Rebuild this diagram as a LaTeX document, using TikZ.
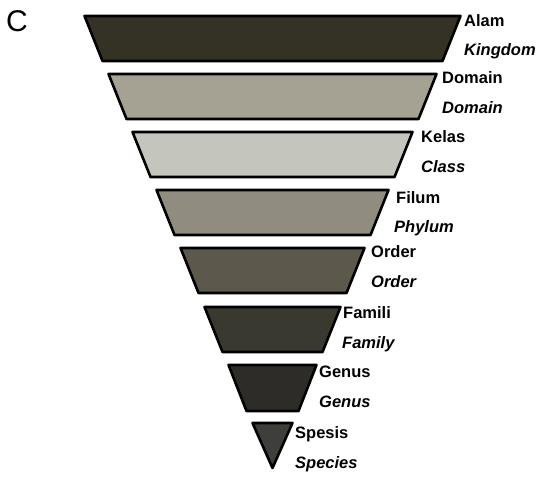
\documentclass[tikz,border=0pt]{standalone}
\usepackage{fontspec}
\setmainfont{Liberation Sans}
\usepackage{tikz}

\definecolor{alamfill}{RGB}{52,50,36}
\definecolor{domainfill}{RGB}{165,162,148}
\definecolor{kelasfill}{RGB}{196,197,188}
\definecolor{filumfill}{RGB}{145,140,128}
\definecolor{orderfill}{RGB}{92,88,76}
\definecolor{familifill}{RGB}{58,57,48}
\definecolor{genusfill}{RGB}{45,44,40}
\definecolor{spesisfill}{RGB}{62,62,58}

\begin{document}
\begin{tikzpicture}[
  x=1pt, y=-1pt,
  band/.style={draw=black, line width=2.6pt, line join=round},
  rank/.style={font=\fontsize{16.5}{18}\selectfont\bfseries, anchor=base west, inner sep=0pt},
  latin/.style={rank, font=\fontsize{16.5}{18}\selectfont\bfseries\itshape},
  panel/.style={font=\fontsize{30}{32}\selectfont, anchor=base west, inner sep=0pt}]
\useasboundingbox (0,0) rectangle (537,477);
\node[panel] (tag) at (6,31.5) {C};
% the inverted pyramid, one band per rank
\draw[band, fill=alamfill]   (84.5,16) -- (460.5,16) -- (442.5,61) -- (102.5,61) -- cycle;
\draw[band, fill=domainfill] (108.5,74) -- (436.5,74) -- (418.5,119) -- (126.5,119) -- cycle;
\draw[band, fill=kelasfill]  (132.5,132) -- (412.5,132) -- (394.5,177) -- (150.5,177) -- cycle;
\draw[band, fill=filumfill]  (156.5,190) -- (388.5,190) -- (370.5,235) -- (174.5,235) -- cycle;
\draw[band, fill=orderfill]  (180.5,248) -- (364.5,248) -- (346.5,293) -- (198.5,293) -- cycle;
\draw[band, fill=familifill] (204.5,307) -- (340.5,307) -- (322.5,352) -- (222.5,352) -- cycle;
\draw[band, fill=genusfill]  (228.5,365) -- (316.5,365) -- (298.5,411) -- (246.5,411) -- cycle;
\draw[band, fill=spesisfill] (252.5,423) -- (292.5,423) -- (272.5,468) -- cycle;
% rank names
\node[rank]  (alam)    at (464,26)  {Alam};
\node[latin] (kingdom) at (464,55)  {Kingdom};
\node[rank]  (domain)  at (442,83)  {Domain};
\node[latin] (domainl) at (442,113) {Domain};
\node[rank]  (kelas)   at (421,142) {Kelas};
\node[latin] (class)   at (421,172) {Class};
\node[rank]  (filum)   at (396,203) {Filum};
\node[latin] (phylum)  at (394,232) {Phylum};
\node[rank]  (order)   at (371,257) {Order};
\node[latin] (orderl)  at (371,287) {Order};
\node[rank]  (famili)  at (343,318) {Famili};
\node[latin] (family)  at (342,348) {Family};
\node[rank]  (genus)   at (319,377) {Genus};
\node[latin] (genusl)  at (319,407) {Genus};
\node[rank]  (spesis)  at (295,438) {Spesis};
\node[latin] (species) at (295,468) {Species};
\end{tikzpicture}
\end{document}
